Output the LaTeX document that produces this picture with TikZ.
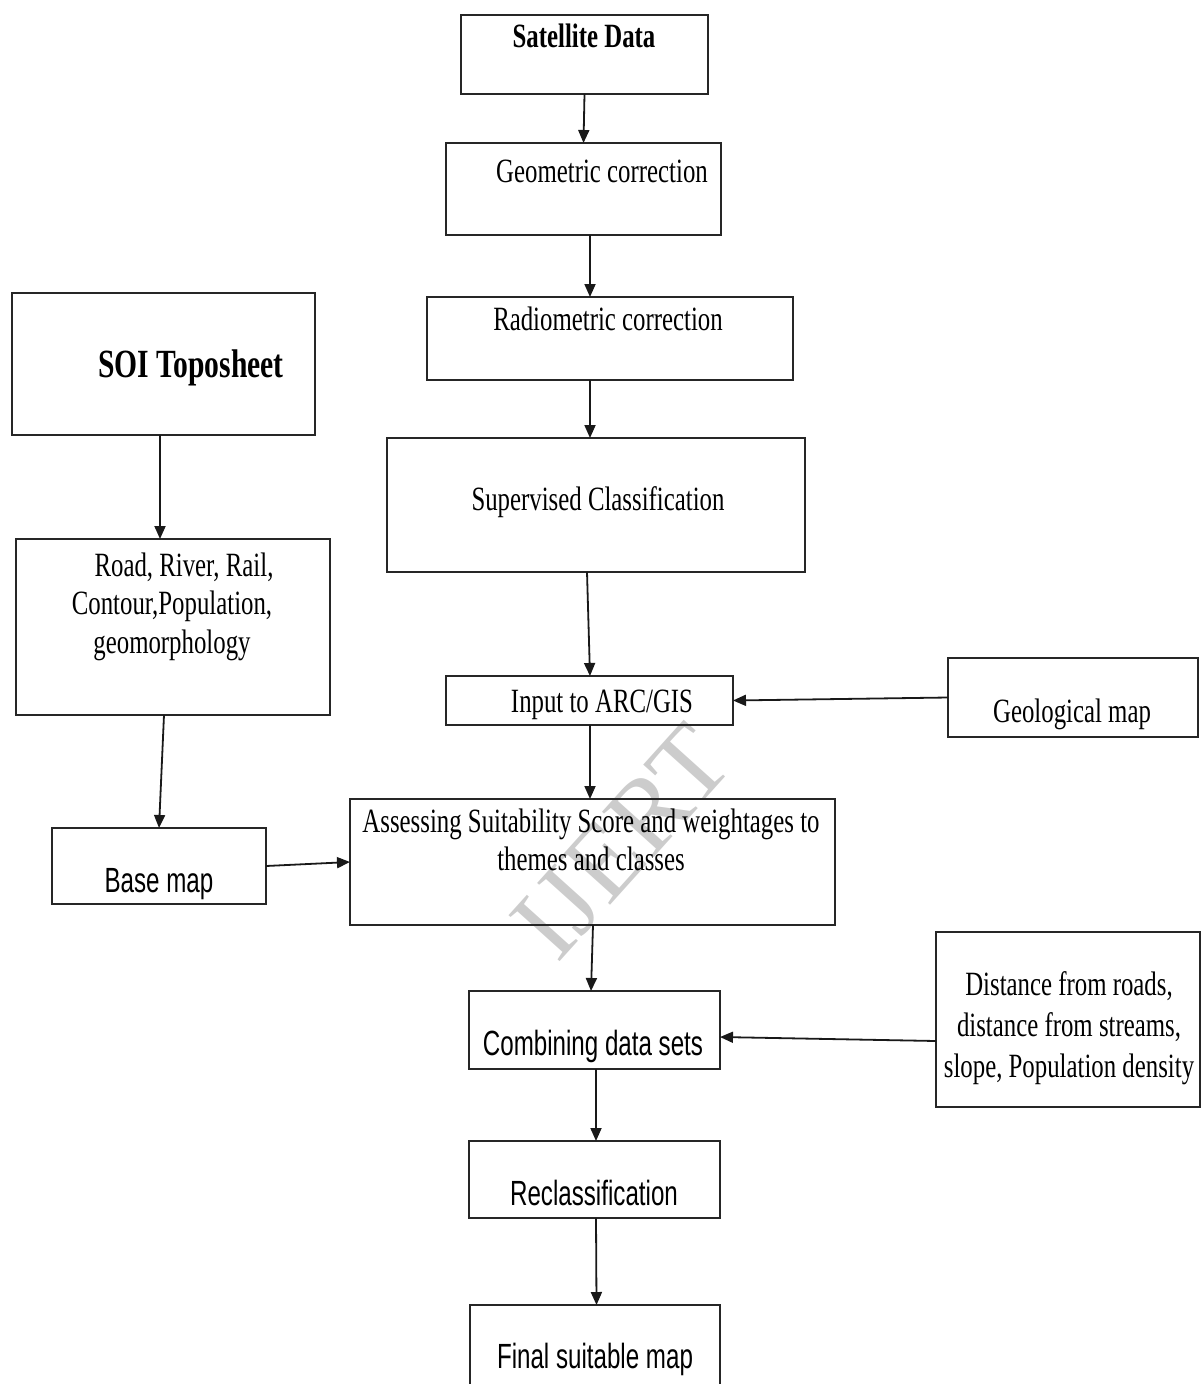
\documentclass[tikz,border=0pt]{standalone}
\usepackage{fontspec}
\setmainfont[FakeStretch=0.73]{Liberation Serif}
\newfontfamily\soifont[FakeStretch=0.74]{Liberation Serif}
\newfontfamily\wmfont{Liberation Serif}
\newfontfamily\sansf[FakeStretch=0.69]{Liberation Sans}
\usetikzlibrary{arrows.meta}
\begin{document}
\begin{tikzpicture}[x=1pt,y=-1pt,
  box/.style={draw=black!85, line width=1.8pt, inner sep=0pt, outer sep=0pt},
  arr/.style={draw=black!90, line width=1.8pt, -{Triangle[length=13pt,width=11pt]}},
  txt/.style={anchor=base, inner sep=0pt, font=\fontsize{34}{38}\selectfont, align=center},
  stxt/.style={anchor=base, inner sep=0pt, font=\sansf\fontsize{35}{40}\selectfont, align=center}]
\useasboundingbox (0,0) rectangle (1202,1384);
\clip (0,0) rectangle (1202,1384);
% watermark (behind everything)
\node[inner sep=0pt, text=black!20, rotate=48, font=\wmfont\fontsize{105}{105}\selectfont] (wm) at (622,842) {IJERT};
% boxes
\node[box, minimum width=247pt, minimum height=79pt] (sat) at (584.5,54.5) {};
\node[box, minimum width=275pt, minimum height=92pt] (geo) at (583.5,189) {};
\node[box, minimum width=366pt, minimum height=83pt] (radio) at (610,338.5) {};
\node[box, minimum width=303pt, minimum height=142pt] (soi) at (163.5,364) {};
\node[box, minimum width=418pt, minimum height=134pt] (sup) at (596,505) {};
\node[box, minimum width=314pt, minimum height=176pt] (road) at (173,627) {};
\node[box, minimum width=287pt, minimum height=49pt] (input) at (589.5,700.5) {};
\node[box, minimum width=250pt, minimum height=79pt] (geol) at (1073,697.5) {};
\node[box, minimum width=214pt, minimum height=76pt] (base) at (159,866) {};
\node[box, minimum width=485pt, minimum height=126pt] (assess) at (592.5,862) {};
\node[box, minimum width=251pt, minimum height=78pt] (comb) at (594.5,1030) {};
\node[box, minimum width=264pt, minimum height=175pt] (dist) at (1068,1019.5) {};
\node[box, minimum width=251pt, minimum height=77pt] (recl) at (594.5,1179.5) {};
\node[box, minimum width=250pt, minimum height=125pt] (final) at (595,1367.5) {};
% texts
\node[txt, font=\bfseries\fontsize{34}{38}\selectfont] (tsat) at (584,47) {Satellite Data};
\node[txt] (tgeo) at (602,182) {Geometric correction};
\node[txt] (tradio) at (608,330) {Radiometric correction};
\node[txt, font=\soifont\bfseries\fontsize{40}{44}\selectfont] (tsoi) at (191,377) {SOI Toposheet};
\node[txt] (tsup) at (598,510) {Supervised Classification};
\node[txt, font=\fontsize{34}{38.5}\selectfont] (troad) at (172,653) {\hspace*{24pt}Road, River, Rail,\\Contour,Population,\\geomorphology};
\node[txt] (tinput) at (602,712) {Input to ARC/GIS};
\node[txt] (tgeol) at (1072,722) {Geological map};
\node[stxt] (tbase) at (159,892) {Base map};
\node[txt, font=\fontsize{34}{38}\selectfont] (tassess) at (591,870) {Assessing Suitability Score and weightages to\\themes and classes};
\node[stxt] (tcomb) at (593,1055) {Combining data sets};
\node[txt, font=\fontsize{34}{41}\selectfont] (tdist) at (1069,1077) {Distance from roads,\\distance from streams,\\slope, Population density};
\node[stxt] (trecl) at (594,1205) {Reclassification};
\node[stxt] (tfinal) at (595,1368) {Final suitable map};
% arrows
\draw[arr] (sat.south) -- (geo.north);
\draw[arr] ([xshift=6.5pt]geo.south) -- ([xshift=-20pt]radio.north);
\draw[arr] ([xshift=-20pt]radio.south) -- ([xshift=-6pt]sup.north);
\draw[arr] ([xshift=-9pt]sup.south) -- ([xshift=0.5pt]input.north);
\draw[arr] ([xshift=-3.5pt]soi.south) -- ([xshift=-13pt]road.north);
\draw[arr] ([xshift=-9pt]road.south) -- (base.north);
\draw[arr] (geol.west) -- (input.east);
\draw[arr] (base.east) -- (assess.west);
\draw[arr] ([xshift=0.5pt]input.south) -- ([xshift=-2.5pt]assess.north);
\draw[arr] ([xshift=0.5pt]assess.south) -- ([xshift=-3.5pt]comb.north);
\draw[arr] ([yshift=-21.5pt]dist.west) -- ([yshift=-7pt]comb.east);
\draw[arr] ([xshift=1.5pt]comb.south) -- ([xshift=1.5pt]recl.north);
\draw[arr] ([xshift=1.5pt]recl.south) -- ([xshift=1.5pt]final.north);
\end{tikzpicture}
\end{document}
